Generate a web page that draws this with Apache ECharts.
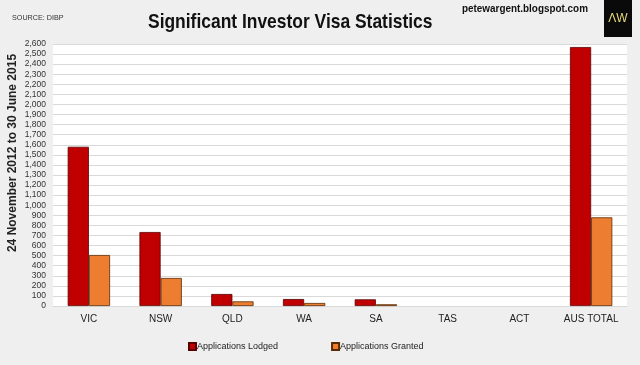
<!DOCTYPE html>
<html><head><meta charset="utf-8">
<script src="https://cdn.jsdelivr.net/npm/echarts@6/dist/echarts.min.js"></script>
<style>html,body{margin:0;padding:0;background:#efefef}#c{width:640px;height:365px}</style>
</head><body><div id="c"></div>
<script>
const categories = ['VIC','NSW','QLD','WA','SA','TAS','ACT','AUS TOTAL'];
const lodged = [1580, 734, 119, 69, 66, 0, 0, 2570];
const granted = [506, 278, 46, 30, 17, 0, 0, 880];
const seriesNames = ['Applications Lodged','Applications Granted'];
const yTicks = {min: 0, max: 2600, interval: 100};

const noZeroBorder = arr => arr.map(v => v === 0 ? {value: v, itemStyle:{borderWidth:0}} : v);

const chart = echarts.init(document.getElementById('c'), null, {renderer:'canvas'});
const font = 'Arial, "Liberation Sans", sans-serif';
chart.setOption({
  backgroundColor: '#efefef',
  animation: false,
  textStyle: {fontFamily: font},
  graphic: [
    {type:'text', x: 12, y: 18, style:{text:'SOURCE: DIBP', font:'8px '+font, fill:'#333', verticalAlign:'middle'}, scaleX: 0.9},
    {type:'text', x: 148, y: 22, scaleX: 0.83, style:{text:'Significant Investor Visa Statistics', font:'bold 21px '+font, fill:'#111', verticalAlign:'middle'}},
    {type:'text', x: 462, y: 9, scaleX: 0.9, style:{text:'petewargent.blogspot.com', font:'bold 11px '+font, fill:'#111', verticalAlign:'middle'}},
    {type:'rect', shape:{x:604, y:0, width:28, height:37}, style:{fill:'#0a0a0a'}},
    {type:'text', x: 618, y: 19, style:{text:'ΛW', font:'12px '+font, fill:'#e8d878', align:'center', verticalAlign:'middle'}},
    {type:'text', x: 13, y: 153, rotation: Math.PI/2, scaleX: 1, style:{text:'24 November 2012 to 30 June 2015', font:'bold 12px '+font, fill:'#222', align:'center', verticalAlign:'middle'}}
  ],
  legend: {
    bottom: 9, left: 183, itemGap: 53, itemWidth: 7, itemHeight: 7,
    icon: 'rect',
    textStyle: {fontSize: 9, color:'#222', fontFamily: font, padding:[0,0,0,-4]},
    data: seriesNames
  },
  grid: {left: 53, right: 13, top: 44, bottom: 59, show: true, backgroundColor:'#ffffff', borderWidth: 0},
  xAxis: {
    type:'category', data: categories,
    axisLine:{show:true, lineStyle:{color:'#d9d9d9'}}, axisTick:{show:false},
    axisLabel:{color:'#222', fontSize: 10, margin: 8, fontFamily: font}
  },
  yAxis: {
    type:'value', min: yTicks.min, max: yTicks.max, interval: yTicks.interval,
    axisLine:{show:false}, axisTick:{show:false},
    splitLine:{lineStyle:{color:'#d9d9d9', width:1}},
    axisLabel:{color:'#333', fontSize: 8.5, margin: 7, fontFamily: font,
      formatter: v => v.toLocaleString('en-US')}
  },
  series: [
    {name: seriesNames[0], type:'bar', data: noZeroBorder(lodged), barGap: '0%', barCategoryGap: '41%',
     itemStyle:{color:'#c00000', borderColor:'#5a0000', borderWidth:0.8}},
    {name: seriesNames[1], type:'bar', data: noZeroBorder(granted),
     itemStyle:{color:'#ed7d31', borderColor:'#5a2a00', borderWidth:0.8}}
  ]
});
</script></body></html>
